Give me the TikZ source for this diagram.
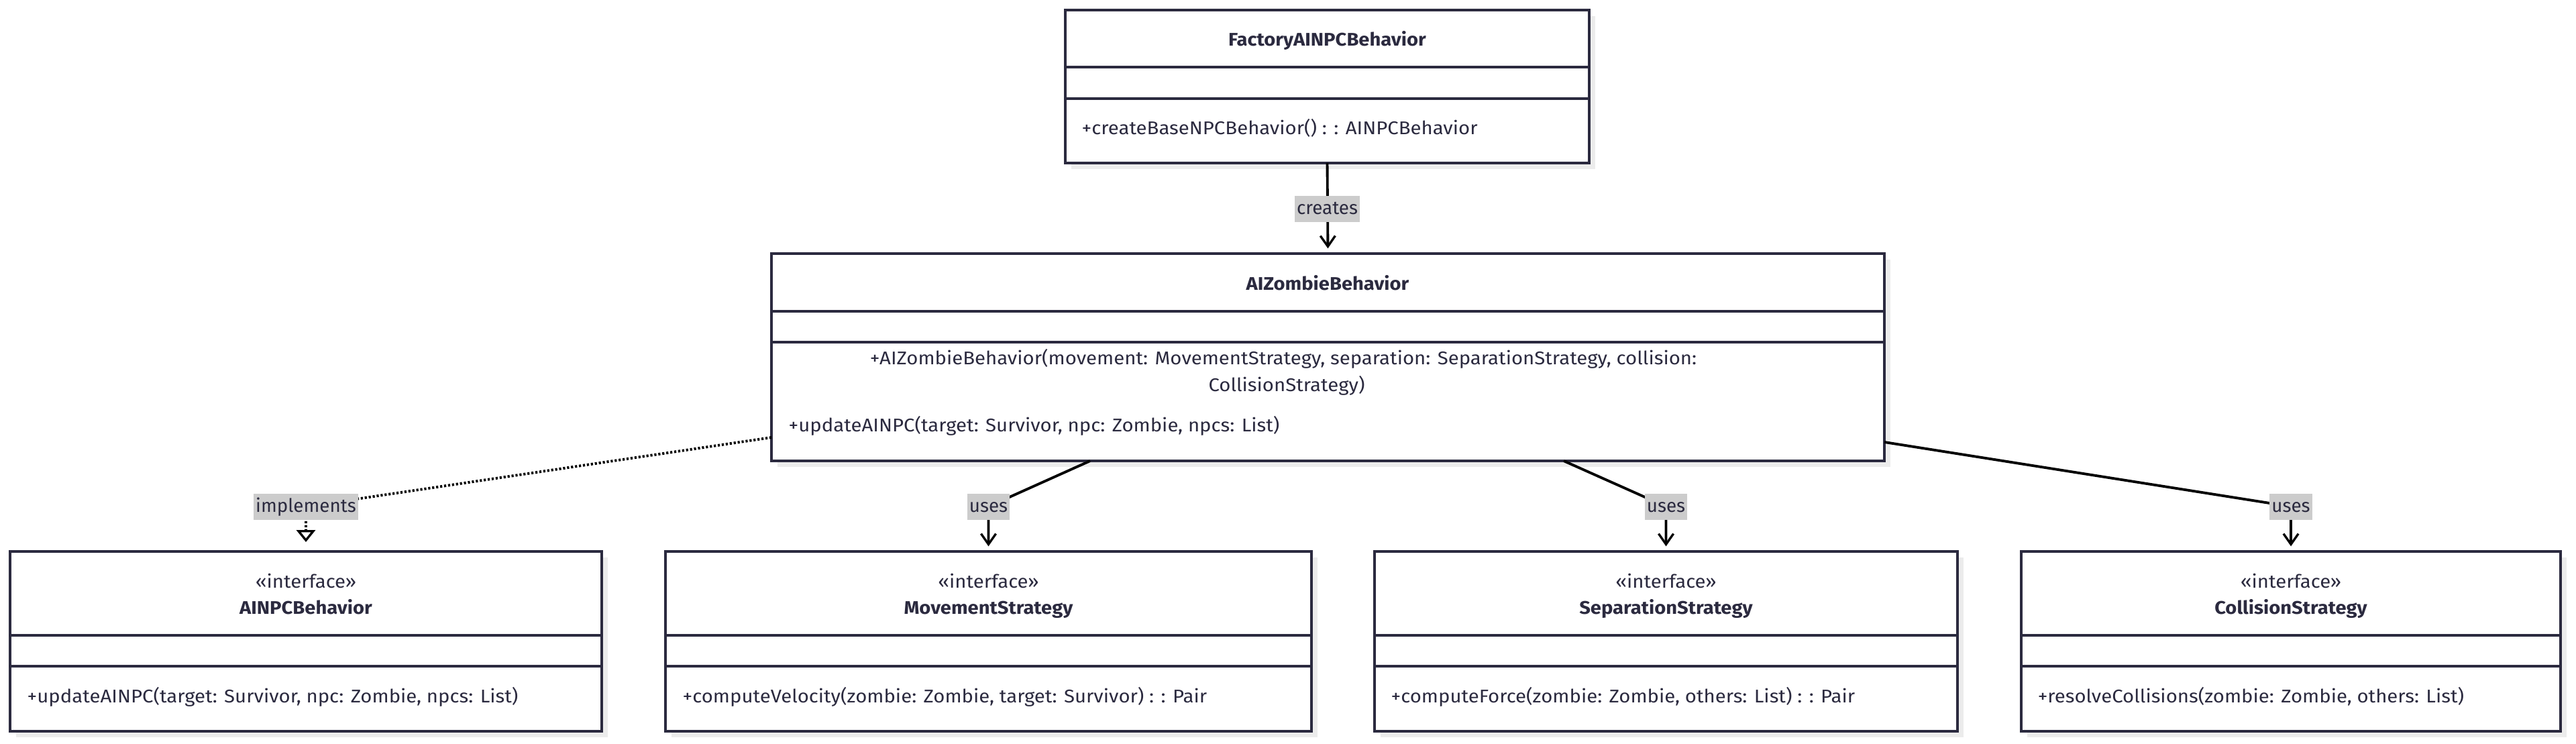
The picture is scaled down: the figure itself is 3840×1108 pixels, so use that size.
\documentclass[tikz,border=0pt]{standalone}
\usepackage{fontspec}
\setmainfont{Fira Sans}[FakeStretch=1.07]
\newfontfamily\lblfont{Fira Sans}
\usetikzlibrary{arrows.meta,fit,calc}
\definecolor{ink}{HTML}{2B2A3F}
\definecolor{lblgray}{HTML}{CCCCCC}
\definecolor{shadowc}{HTML}{ECECEC}
\tikzset{
  boxline/.style={draw=ink, line width=0.95pt},
  classbox/.style={draw=ink, fill=white, line width=0.95pt, inner sep=0pt, outer sep=0pt},
  txt/.style={inner sep=0pt, anchor=base, text=ink, font=\fontsize{7.8}{9}\selectfont},
  txtl/.style={txt, anchor=base west},
  ttl/.style={txt, font=\fontsize{7.75}{9}\selectfont\bfseries},
  lbl/.style={fill=lblgray, text=ink, inner xsep=0.03cm, inner ysep=0pt, minimum height=0.39cm,
    text height=0.72em, text depth=0.22em, font=\lblfont\fontsize{7.9}{9}\selectfont},
  conn/.style={line width=1.1pt, draw=black},
  usesarrow/.style={conn, -{Straight Barb[length=4.5pt,width=6.3pt,line width=0.95pt]}, shorten >=2.2pt},
  implarrow/.style={conn, dash pattern=on 0.9pt off 0.8pt,
    -{Triangle[open, length=5.1pt, width=8pt, line width=0.95pt, fill=white]}, shorten >=4pt},
  createsarrow/.style={conn, -{Straight Barb[length=4.5pt,width=6.3pt,line width=0.95pt]}, shorten >=2.2pt}
}
\newcommand\mkclass[7]{%
  \fill[shadowc] ({#2+9},{#3+9}) rectangle ({#4+9},{#5+9});
  \path (#2,#3) coordinate (#1-nw) (#4,#5) coordinate (#1-se);
  \node[classbox, fit=(#1-nw)(#1-se)] (#1) {};
  \draw[boxline] (#2,#6) -- (#4,#6) (#2,#7) -- (#4,#7);
}
\begin{document}
\begin{tikzpicture}[x=0.01cm, y=-0.01cm]
\useasboundingbox (0,0) rectangle (3840,1108);

% class boxes
\mkclass{fac}{1588}{15}{2369}{243}{100}{147}
\mkclass{aiz}{1150}{378}{2809}{687}{464}{510}
\mkclass{ainpc}{15}{822}{897}{1090}{947}{993}
\mkclass{mov}{992}{822}{1955}{1090}{947}{993}
\mkclass{sep}{2049}{822}{2918}{1090}{947}{993}
\mkclass{col}{3013}{822}{3817}{1090}{947}{993}

% texts
\node[ttl] (facT) at (1978.5,68) {FactoryAINPCBehavior};
\node[txtl] (facM) at (1612,200) {+createBaseNPCBehavior() : : AINPCBehavior};

\node[ttl] (aizT) at (1979,432) {AIZombieBehavior};
\node[txt] (aizC1) at (1913,543) {+AIZombieBehavior(movement: MovementStrategy, separation: SeparationStrategy, collision:};
\node[txt] (aizC2) at (1918,583) {CollisionStrategy)};
\node[txtl] (aizM) at (1175,643) {+updateAINPC(target: Survivor, npc: Zombie, npcs: List)};

\node[txt] (ainpcS) at (456,876) {«interface»};
\node[ttl] (ainpcT) at (456,915) {AINPCBehavior};
\node[txtl] (ainpcM) at (40,1047) {+updateAINPC(target: Survivor, npc: Zombie, npcs: List)};

\node[txt] (movS) at (1473.5,876) {«interface»};
\node[ttl] (movT) at (1473.5,915) {MovementStrategy};
\node[txtl] (movM) at (1017,1047) {+computeVelocity(zombie: Zombie, target: Survivor) : : Pair};

\node[txt] (sepS) at (2483.5,876) {«interface»};
\node[ttl] (sepT) at (2483.5,915) {SeparationStrategy};
\node[txtl] (sepM) at (2073,1047) {+computeForce(zombie: Zombie, others: List) : : Pair};

\node[txt] (colS) at (3415,876) {«interface»};
\node[ttl] (colT) at (3415,915) {CollisionStrategy};
\node[txtl] (colM) at (3037,1047) {+resolveCollisions(zombie: Zombie, others: List)};

% connector anchor points
\coordinate (aizL) at (1150,652);
\coordinate (aizB1) at (1625,687);
\coordinate (aizB2) at (2331,687);
\coordinate (aizR) at (2809,659);
\coordinate (pCre) at (1978.5,311);
\coordinate (pImp) at (456,755);
\coordinate (pMov) at (1473.5,755);
\coordinate (pSep) at (2483.5,755);
\coordinate (pCol) at (3415,755);

% connectors
\draw[createsarrow] (fac.south) -- (aiz.north);
\draw[implarrow] (aizL) -- (pImp) -- (ainpc.north);
\draw[usesarrow] (aizB1) -- (pMov) -- (mov.north);
\draw[usesarrow] (aizB2) -- (pSep) -- (sep.north);
\draw[usesarrow] (aizR) -- (pCol) -- (col.north);

% labels
\node[lbl] (lCre) at (pCre) {creates};
\node[lbl] (lImp) at (pImp) {implements};
\node[lbl] (lMov) at (pMov) {uses};
\node[lbl] (lSep) at (pSep) {uses};
\node[lbl] (lCol) at (pCol) {uses};
\end{tikzpicture}
\end{document}
